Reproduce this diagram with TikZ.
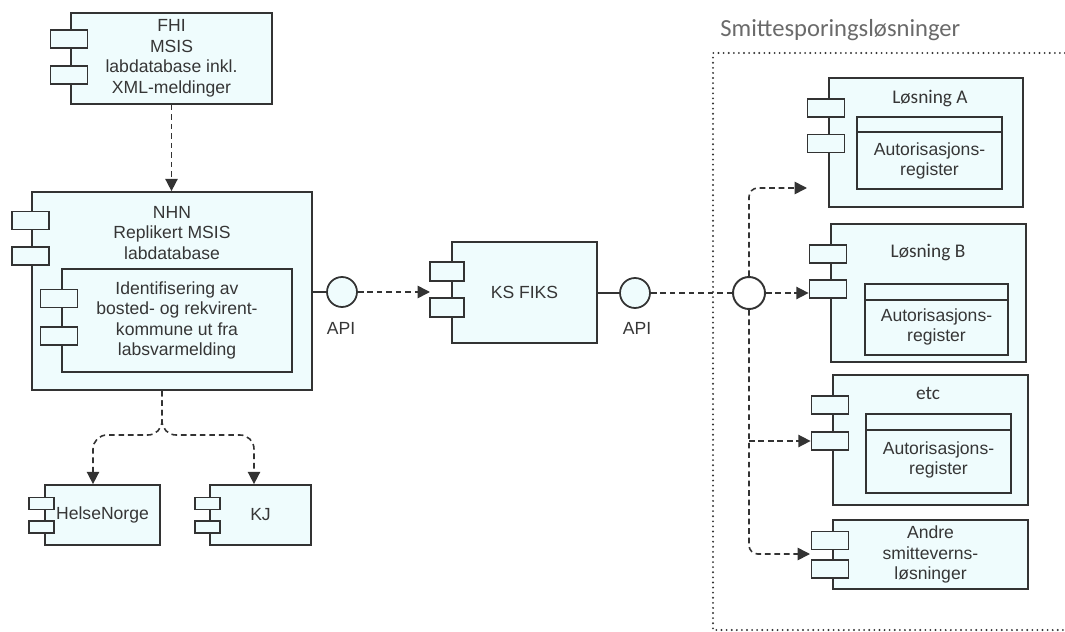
\documentclass[tikz,border=0pt]{standalone}
\usepackage{fontspec}
\setmainfont{Liberation Sans}
\newfontfamily\calibri{Carlito}
\usetikzlibrary{arrows.meta,positioning,calc}
\definecolor{compfill}{HTML}{EFFCFD}
\definecolor{edge}{HTML}{333333}
\definecolor{ink}{HTML}{363636}
\definecolor{frametxt}{HTML}{6A6A6A}

\begin{document}
\begin{tikzpicture}[x=0.02cm, y=-0.02cm,
  comp/.style={draw=edge, fill=compfill, line width=1pt, align=center,
               font=\fontsize{10}{11.7}\selectfont, text=ink, inner sep=0pt},
  port/.style={draw=edge, fill=compfill, line width=1pt, minimum width=0.74cm,
               minimum height=0.36cm, inner sep=0pt},
  sport/.style={port, minimum width=0.5cm, minimum height=0.24cm},
  cls/.style={draw=edge, fill=compfill, line width=1pt, inner sep=0pt},
  txt/.style={align=center, font=\fontsize{10}{11.7}\selectfont, text=ink, inner sep=0pt},
  ttl/.style={font=\calibri\fontsize{11}{13}\selectfont, text=ink, inner sep=0pt},
  api/.style={circle, draw=edge, fill=compfill, line width=1pt, minimum size=0.6cm,
              inner sep=0pt},
  lnk/.style={draw=edge, line width=0.9pt},
  dep/.style={lnk, dash pattern=on 3.2pt off 2.2pt, -{Triangle[length=7pt,width=7pt]}},
  frm/.style={draw=edge, line width=1.2pt, line cap=round, dash pattern=on 0pt off 2.9pt},
]
\useasboundingbox (0,0) rectangle (1065,632);

% FHI
\node[comp, minimum width=4.02cm, minimum height=1.82cm] (fhi) at (171.5,58.5)
  {FHI\\MSIS\\labdatabase inkl.\\XML-meldinger};
\node[port] (fhiP1) at (69,39) {};
\node[port] (fhiP2) at (69,75) {};

% NHN
\node[comp, minimum width=5.6cm, minimum height=3.96cm] (nhn) at (172,291) {};
\node[txt] (nhnT) at (172,233) {NHN\\Replikert MSIS\\labdatabase};
\node[port] (nhnP1) at (30.5,220.5) {};
\node[port] (nhnP2) at (30.5,256) {};
\node[comp, minimum width=4.6cm, minimum height=2.06cm] (ident) at (177,320.5)
  {Identifisering av\\bosted- og rekvirent-\\kommune ut fra\\labsvarmelding};
\node[port] (identP1) at (59,298.5) {};
\node[port] (identP2) at (59,336) {};

% HelseNorge og KJ
\node[comp, minimum width=2.3cm, minimum height=1.2cm] (hn) at (102.5,515) {HelseNorge};
\node[sport] (hnP1) at (41.5,503.5) {};
\node[sport] (hnP2) at (41.5,527) {};
\node[comp, minimum width=2.02cm, minimum height=1.2cm] (kj) at (260.5,515) {KJ};
\node[sport] (kjP1) at (207.5,503.5) {};
\node[sport] (kjP2) at (207.5,527) {};

% KS FIKS
\node[comp, minimum width=2.9cm, minimum height=2.02cm] (ks) at (524.5,292.5) {KS FIKS};
\node[port, minimum width=0.68cm, minimum height=0.38cm] (ksP1) at (447,271.5) {};
\node[port, minimum width=0.68cm, minimum height=0.38cm] (ksP2) at (447,307.5) {};

% API
\node[api] (api1) at (342,292) {};
\node[txt] (apiL1) at (341,328) {API};
\node[api] (api2) at (635,293) {};
\node[txt] (apiL2) at (637,328) {API};
\node[circle, draw=edge, fill=white, line width=1.1pt, minimum size=0.64cm, inner sep=0pt]
  (hub) at (749,293) {};

% Smittesporingsloesninger
\draw[frm] (1065,53) -| (713,630) -- (1065,630);
\node[font=\calibri\fontsize{14}{16}\selectfont, text=frametxt, anchor=west, inner sep=0pt]
  (frameT) at (720,30) {Smittesporingsløsninger};

% Loesning A
\node[comp, minimum width=3.88cm, minimum height=2.58cm] (a) at (926,142.5) {};
\node[port] (aP1) at (826,108) {};
\node[port] (aP2) at (826,143.5) {};
\node[ttl] (aT) at (930,99) {Løsning A};
\node[cls, minimum width=2.9cm, minimum height=1.44cm] (regA) at (929.5,153) {};
\draw[lnk, line width=1pt] ([yshift=-0.32cm]regA.north west) -- ([yshift=-0.32cm]regA.north east);
\node[txt] (regAT) at (929.5,161) {Autorisasjons-\\register};

% Loesning B
\node[comp, minimum width=3.9cm, minimum height=2.76cm] (b) at (928.5,293) {};
\node[port] (bP1) at (828,254) {};
\node[port] (bP2) at (828,289) {};
\node[ttl] (bT) at (928,253) {Løsning B};
\node[cls, minimum width=2.86cm, minimum height=1.42cm] (regB) at (936.5,319.5) {};
\draw[lnk, line width=1pt] ([yshift=-0.34cm]regB.north west) -- ([yshift=-0.34cm]regB.north east);
\node[txt] (regBT) at (936.5,327) {Autorisasjons-\\register};

% etc
\node[comp, minimum width=3.9cm, minimum height=2.6cm] (etc) at (930.5,440) {};
\node[port] (etcP1) at (830,405) {};
\node[port] (etcP2) at (830,441) {};
\node[ttl] (etcT) at (928,393) {etc};
\node[cls, minimum width=2.9cm, minimum height=1.58cm] (regC) at (938.5,453.5) {};
\draw[lnk, line width=1pt] ([yshift=-0.34cm]regC.north west) -- ([yshift=-0.34cm]regC.north east);
\node[txt] (regCT) at (938.5,460) {Autorisasjons-\\register};

% Andre
\node[comp, minimum width=3.9cm, minimum height=1.38cm] (andre) at (930.5,554.5)
  {Andre\\smitteverns-\\løsninger};
\node[port] (andreP1) at (830,540.5) {};
\node[port] (andreP2) at (830,569) {};

% forbindelser
\draw[dep] (fhi) -- (fhi |- nhn.north);
\coordinate (split) at (162,435);
\draw[dep, rounded corners=8pt] (split |- nhn.south) -- (split) -| ([xshift=-0.19cm]hn.north);
\draw[dep, rounded corners=8pt] (split |- nhn.south) -- (split) -| ([xshift=-0.13cm]kj.north);

\draw[lnk] (nhn.east |- api1) -- (api1);
\coordinate (ksIn) at (430,292);
\draw[dep] (api1) -- (ksIn);
\draw[lnk] (ks.east |- api2) -- (api2);
\draw[lnk, dash pattern=on 3.2pt off 2.2pt] (api2) -- (hub);

\coordinate (aIn) at (807,188);
\coordinate (andreIn) at (810,554);
\draw[dep, rounded corners=5pt] (hub.north) |- (aIn);
\draw[dep] (hub.east) -- (hub -| bP2.west);
\draw[dep] (hub.south |- etcP2) -- (etcP2);
\draw[dep, rounded corners=5pt] (hub.south) |- (andreIn);
\end{tikzpicture}
\end{document}
